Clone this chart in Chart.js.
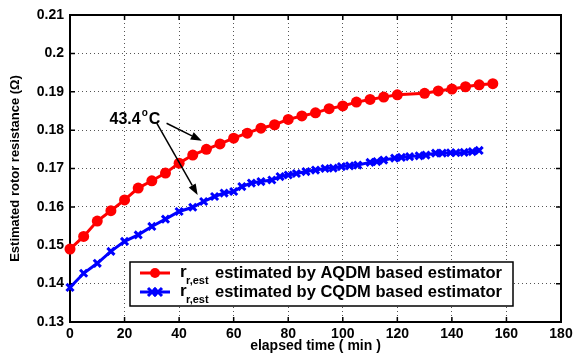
<!DOCTYPE html>
<html>
<head>
<meta charset="utf-8">
<script src="https://cdn.jsdelivr.net/npm/chart.js@4/dist/chart.umd.min.js"></script>
<style>
  html, body { margin: 0; padding: 0; background: #fff; }
  #wrap { width: 577px; height: 355px; }
</style>
</head>
<body>
<div id="wrap"><canvas id="c" width="577" height="355"></canvas></div>
<script>
// readings
const aqdmTime = [0,5,10,15,20,25,30,35,40,45,50,55,60,65,70,75,80,85,90,95,100,105,110,115,120,130,135,140,145,150,155];
const aqdmR = [0.149,0.1523,0.1563,0.159,0.1618,0.1649,0.1668,0.1688,0.1714,0.1735,0.175,0.1764,0.1779,0.1792,0.1805,0.1814,0.1828,0.1837,0.1845,0.1856,0.1863,0.1873,0.188,0.1886,0.1892,0.1896,0.1902,0.1907,0.1913,0.1918,0.1921];

const cqdmTime = [0,5,10,15,20,25,30,35,40,45,49,53,56.5,60,63,66.5,70,74,77,80,83,86.5,90,93.5,96.5,99.5,102.5,105.5,110,112.5,115,119,121.5,124.5,128,130.5,134,136.5,139.5,141.5,144.5,147.5,150];
const cqdmR = [0.139,0.1427,0.1453,0.1484,0.151,0.1527,0.1549,0.1568,0.1588,0.1599,0.1614,0.1627,0.1636,0.164,0.1653,0.1662,0.1666,0.167,0.1679,0.1683,0.1687,0.1692,0.1696,0.17,0.1701,0.1705,0.1707,0.1709,0.1716,0.1718,0.1722,0.1727,0.1729,0.1731,0.1733,0.1735,0.174,0.174,0.1741,0.1741,0.1742,0.1744,0.1747];

const xTicks = [0,20,40,60,80,100,120,140,160,180];
const yTicks = [0.13,0.14,0.15,0.16,0.17,0.18,0.19,0.2,0.21];

const seriesNames = ['estimated by AQDM based estimator', 'estimated by CQDM based estimator'];
const annotationText = '43.4';

const FONT = '"Liberation Sans", Arial, sans-serif';

const toPoints = (xs, ys) => xs.map((x, i) => ({ x: x, y: ys[i] }));

// box + inward ticks like the matlab axes
const framePlugin = {
  id: 'frame',
  beforeDatasetsDraw(chart) {
    const { ctx, chartArea: a, scales } = chart;
    ctx.save();
    ctx.strokeStyle = '#000';
    ctx.lineWidth = 1.5;
    ctx.beginPath();
    xTicks.forEach(t => {
      const px = scales.x.getPixelForValue(t);
      ctx.moveTo(px, a.bottom); ctx.lineTo(px, a.bottom - 5);
      ctx.moveTo(px, a.top); ctx.lineTo(px, a.top + 5);
    });
    yTicks.forEach(t => {
      const py = scales.y.getPixelForValue(t);
      ctx.moveTo(a.left, py); ctx.lineTo(a.left + 5, py);
      ctx.moveTo(a.right, py); ctx.lineTo(a.right - 5, py);
    });
    ctx.stroke();
    ctx.lineWidth = 2;
    ctx.strokeRect(a.left, a.top, a.right - a.left, a.bottom - a.top);
    ctx.restore();
  }
};

function arrow(ctx, x1, y1, x2, y2) {
  const ang = Math.atan2(y2 - y1, x2 - x1);
  const len = 11, w = 4;
  const bx = x2 - len * Math.cos(ang), by = y2 - len * Math.sin(ang);
  ctx.beginPath();
  ctx.moveTo(x1, y1);
  ctx.lineTo(bx, by);
  ctx.stroke();
  ctx.beginPath();
  ctx.moveTo(x2, y2);
  ctx.lineTo(bx + w * Math.sin(ang), by - w * Math.cos(ang));
  ctx.lineTo(bx - w * Math.sin(ang), by + w * Math.cos(ang));
  ctx.closePath();
  ctx.fill();
}

const notePlugin = {
  id: 'note',
  afterDatasetsDraw(chart) {
    const { ctx, scales } = chart;
    const X = v => scales.x.getPixelForValue(v), Y = v => scales.y.getPixelForValue(v);
    ctx.save();
    ctx.fillStyle = '#000';
    ctx.strokeStyle = '#000';
    ctx.lineWidth = 1.5;
    ctx.font = 'bold 16px ' + FONT;
    ctx.textBaseline = 'alphabetic';
    const tx = X(14.5), ty = Y(0.1817);
    ctx.fillText(annotationText, tx, ty);
    const w = ctx.measureText(annotationText).width;
    ctx.font = 'bold 10px ' + FONT;
    ctx.fillText('o', tx + w + 1, ty - 8);
    ctx.font = 'bold 16px ' + FONT;
    ctx.fillText('C', tx + w + 8, ty);
    arrow(ctx, X(35.4), Y(0.1818), X(48.3), Y(0.1772));
    arrow(ctx, X(31.8), Y(0.1818), X(46.8), Y(0.1631));
    ctx.restore();
  }
};

const legendPlugin = {
  id: 'legendBox',
  afterDraw(chart) {
    const { ctx } = chart;
    const bx = 130, by = 262, bw = 383, bh = 44;
    ctx.save();
    ctx.fillStyle = '#fff';
    ctx.fillRect(bx, by, bw, bh);
    ctx.strokeStyle = '#000';
    ctx.lineWidth = 1.5;
    ctx.strokeRect(bx, by, bw, bh);
    const rows = [
      { y: by + 11, color: '#ff0000', marker: 'circle' },
      { y: by + 30, color: '#0000ff', marker: 'cross' }
    ];
    rows.forEach((r, i) => {
      ctx.strokeStyle = r.color;
      ctx.fillStyle = r.color;
      ctx.lineWidth = 3;
      ctx.beginPath();
      ctx.moveTo(140, r.y); ctx.lineTo(170, r.y);
      ctx.stroke();
      if (r.marker === 'circle') {
        ctx.beginPath();
        ctx.arc(155, r.y, 5, 0, Math.PI * 2);
        ctx.fill();
      } else {
        [152, 158].forEach(cx => {
          ctx.beginPath();
          ctx.moveTo(cx - 4, r.y - 4); ctx.lineTo(cx + 4, r.y + 4);
          ctx.moveTo(cx + 4, r.y - 4); ctx.lineTo(cx - 4, r.y + 4);
          ctx.stroke();
        });
      }
      ctx.fillStyle = '#000';
      ctx.textBaseline = 'middle';
      ctx.font = 'bold 17px ' + FONT;
      ctx.fillText('r', 180, r.y - 1);
      ctx.font = 'bold 11px ' + FONT;
      ctx.fillText('r,est', 186, r.y + 8);
      ctx.font = 'bold 16.5px ' + FONT;
      ctx.fillText(seriesNames[i], 215, r.y);
    });
    ctx.restore();
  }
};

new Chart(document.getElementById('c'), {
  type: 'line',
  data: {
    datasets: [
      {
        label: seriesNames[0],
        data: toPoints(aqdmTime, aqdmR),
        borderColor: '#ff0000',
        backgroundColor: '#ff0000',
        borderWidth: 3,
        pointStyle: 'circle',
        pointRadius: 5.5,
        pointBorderWidth: 0,
        tension: 0,
        clip: false
      },
      {
        label: seriesNames[1],
        data: toPoints(cqdmTime, cqdmR),
        borderColor: '#0000ff',
        backgroundColor: '#0000ff',
        borderWidth: 3,
        pointStyle: 'crossRot',
        pointRadius: 5,
        pointBorderWidth: 3,
        tension: 0,
        clip: false
      }
    ]
  },
  options: {
    responsive: false,
    animation: false,
    events: [],
    layout: { padding: { top: 15, right: 16, left: 0, bottom: 0 } },
    plugins: { legend: { display: false }, tooltip: { enabled: false } },
    scales: {
      x: {
        type: 'linear',
        min: 0, max: 180,
        afterBuildTicks: s => { s.ticks = xTicks.map(v => ({ value: v })); },
        afterFit: s => { s.height = 33; },
        grid: { color: '#555', lineWidth: 1, drawTicks: false },
        border: { display: false, dash: [1, 3] },
        ticks: { color: '#000', font: { family: FONT, size: 14, weight: 'bold' }, padding: 4, maxRotation: 0 },
        title: { display: true, text: 'elapsed time ( min )', color: '#000', font: { family: FONT, size: 14, weight: 'bold' }, padding: { top: 0, bottom: 0 } }
      },
      y: {
        min: 0.13, max: 0.21,
        afterBuildTicks: s => { s.ticks = yTicks.map(v => ({ value: v })); },
        afterFit: s => { s.width = 70; },
        grid: { color: '#555', lineWidth: 1, drawTicks: false },
        border: { display: false, dash: [1, 3] },
        ticks: { color: '#000', font: { family: FONT, size: 14, weight: 'bold' }, padding: 6, callback: v => String(+v.toFixed(2)) },
        title: { display: true, text: 'Estimated rotor resistance (Ω)', color: '#000', font: { family: '"Liberation Sans Narrow", "Liberation Sans", Arial, sans-serif', size: 13, weight: 'bold' }, padding: { top: 8, bottom: 0 } }
      }
    }
  },
  plugins: [framePlugin, notePlugin, legendPlugin]
});
</script>
</body>
</html>
